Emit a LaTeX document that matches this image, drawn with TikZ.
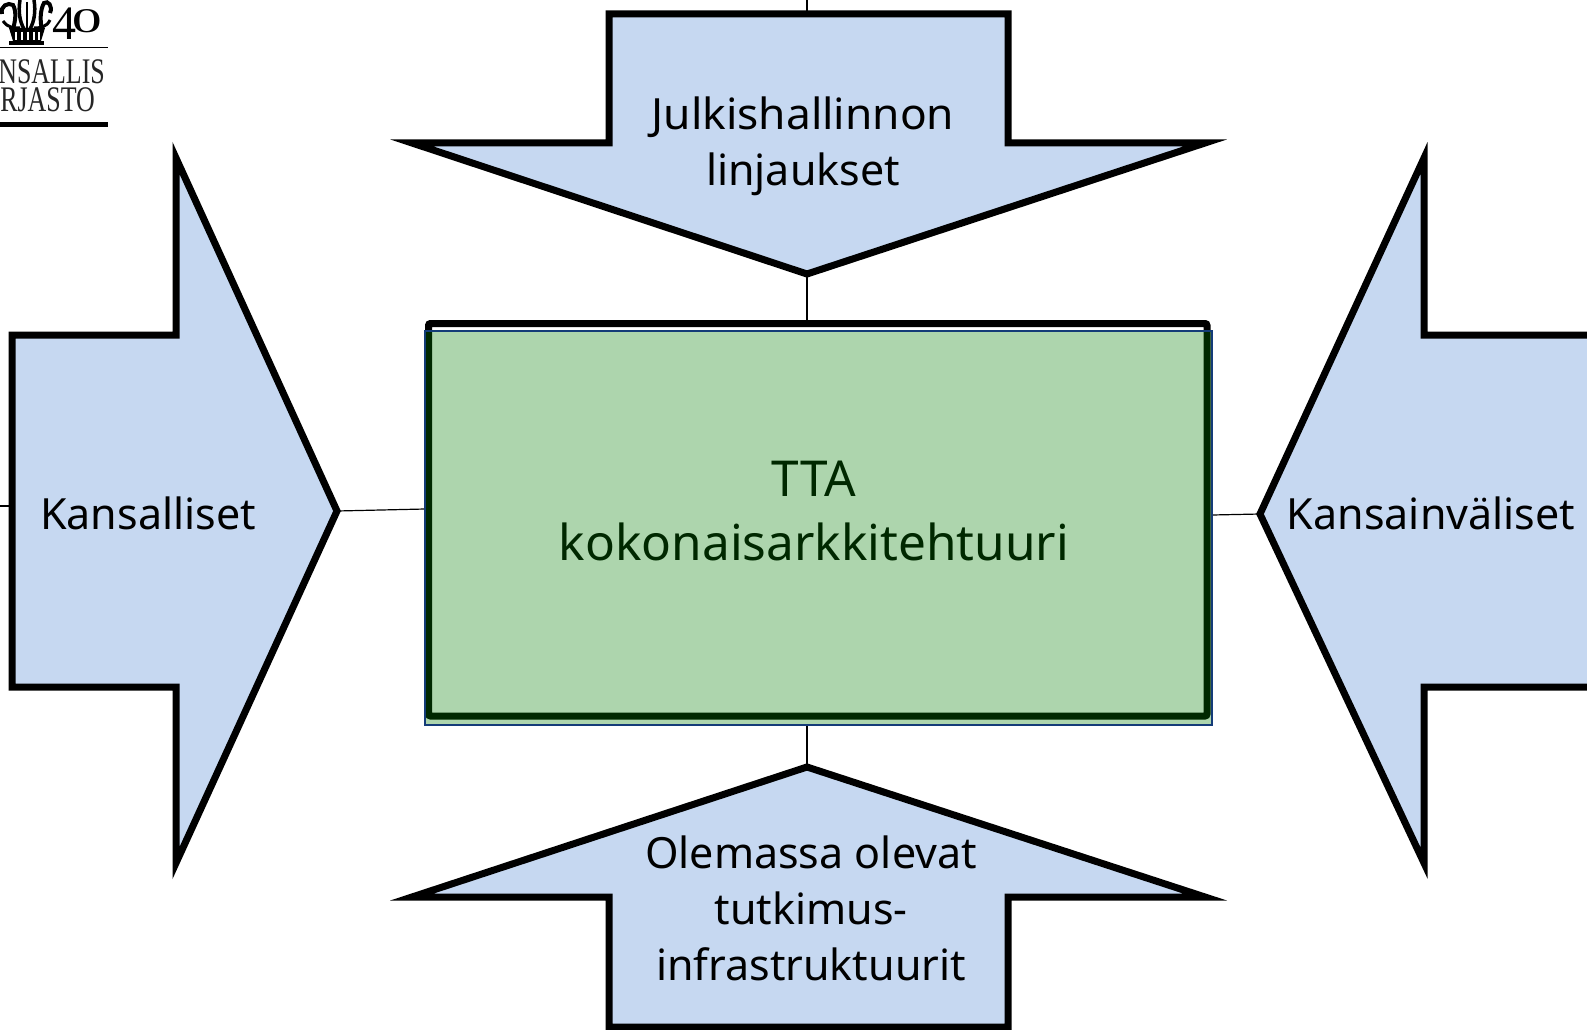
\documentclass[tikz,border=0pt]{standalone}
\usepackage{fontspec}
\setmainfont{Noto Sans}
\newfontfamily\logofont{Liberation Serif}
\definecolor{arrowblue}{RGB}{198,216,241}
\definecolor{overlaygreen}{RGB}{0,125,0}
\definecolor{edgeblue}{RGB}{20,60,120}
\tikzset{
  bigarrow/.style={draw=black,line width=7pt,miter limit=20,fill=arrowblue,line join=miter},
  link/.style={draw=black,line width=1.2pt},
  label/.style={font=\fontsize{43}{56}\selectfont,align=center,inner sep=0pt,text=black},
  logotext/.style={font=\logofont\fontsize{36}{36}\selectfont,inner sep=0pt,anchor=base east,text=black!85,xscale=.72},
}
\begin{document}
\begin{tikzpicture}[x=1pt,y=-1pt]
\useasboundingbox (0,0) rectangle (1587,1030);
\clip (0,0) rectangle (1587,1030);
\fill[white] (0,0) rectangle (1587,1030);
% connector anchors
\coordinate (topfree) at (807,0);
\coordinate (topback) at (807,14);
\coordinate (toptip) at (807,274);
\coordinate (bottip) at (807,767);
\coordinate (lefttip) at (337,511);
\coordinate (righttip) at (1260,514);
\coordinate (leftfree) at (0,506);
\coordinate (leftback) at (12,506);
% frame behind the overlay
\node[draw=black,line width=7pt,rounded corners=2pt,minimum width=778.5pt,minimum height=392.5pt,inner sep=0pt,outer sep=0pt,anchor=north west] (frame) at (428.5,323.5) {};
% panel geometry (drawn later, over the labels)
\coordinate (panelnw) at (425,331);
\coordinate (panelse) at (1212,725);
% connectors
\draw[link] (topfree) -- (topback);
\draw[link] (toptip) -- (toptip |- frame.north);
\draw[link] (bottip) -- (bottip |- panelse);
\draw[link] (lefttip) -- (panelnw |- 0,509);
\draw[link] (righttip) -- (panelse |- 0,515);
\draw[link] (leftfree) -- (leftback);
% arrows
\draw[bigarrow] (609,14) -- (1008,14) -- (1008,143) -- (1205,143) -- (toptip) -- (412,143) -- (609,143) -- cycle;
\draw[bigarrow] (609,1027) -- (1008,1027) -- (1008,897) -- (1205,897) -- (bottip) -- (412,897) -- (609,897) -- cycle;
\draw[bigarrow] (12,335) -- (176,335) -- (176,158) -- (lefttip) -- (176,863) -- (176,687) -- (12,687) -- cycle;
\draw[bigarrow] (1600,335) -- (1424,335) -- (1424,158) -- (righttip) -- (1424,863) -- (1424,687) -- (1600,687) -- cycle;
% labels
\node[label] (ltop) at (803,146) {\scalebox{1.03}[1]{Julkishallinnon}\\linjaukset};
\node[label] (lleft) at (148,513) {Kansalliset};
\node[label] (lright) at (1431,513) {Kansainväliset};
\node[label] (lbot) at (811,908) {Olemassa olevat\\tutkimus-\\infrastruktuurit};
\node[label,font=\fontsize{49.5}{64}\selectfont] (lmid) at (814,511) {TTA\\kokonaisarkkitehtuuri};
% translucent overlay
\path[fill=overlaygreen,fill opacity=0.32] (panelnw) rectangle (panelse);
\draw[edgeblue,line width=1.2pt] (panelnw) rectangle (panelse);
% logo
\draw[black,line width=1pt] (0,47.5) -- (108,47.5);
\fill[black] (0,122) rectangle (108,127);
\node[logotext] (l1) at (105,84) {NSALLIS};
\node[logotext] (l2) at (95,112) {RJASTO};
\node[font=\logofont\fontsize{48}{48}\selectfont,inner sep=0pt,anchor=base east] (l40) at (102,40) {4\kern-5pt\raisebox{7pt}{\scalebox{1.25}[0.72]{0}}};
\fill[black] (9,41) rectangle (44,45);
\fill[black] (9,28) -- (45,28) -- (41,41) -- (13,41) -- cycle;
\foreach \x in {16,22,28,34,39}{\draw[white,line width=1.2pt] (\x,32) -- (\x,40);}
\draw[black,line width=4pt] (2,14) .. controls (0,6) and (8,2) .. (13,5) .. controls (17,12) and (15,22) .. (13,29);
\draw[black,line width=4pt] (50,13) .. controls (53,6) and (48,0) .. (44,3) .. controls (40,10) and (40,22) .. (42,29);
\draw[black,line width=3.5pt] (20,0) .. controls (18,12) and (20,22) .. (24,29);
\draw[black,line width=3.5pt] (34,0) .. controls (36,12) and (34,22) .. (30,29);
\draw[black,line width=2.5pt] (27,2) -- (27,28);
\draw[black,line width=3pt] (3,21) .. controls (8,28) and (14,28) .. (20,28);
\draw[black,line width=3pt] (50,20) .. controls (47,27) and (40,28) .. (34,28);
\end{tikzpicture}
\end{document}
